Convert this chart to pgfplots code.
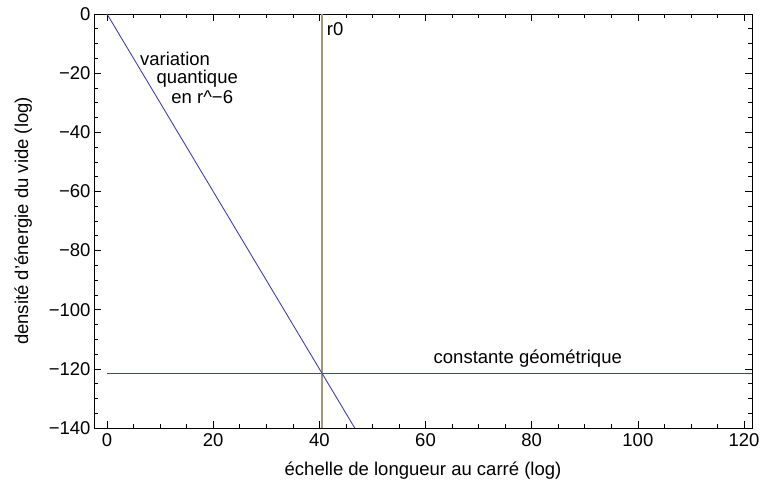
\documentclass[border=0pt]{standalone}
\usepackage{fontspec}
\setmainfont{Liberation Sans}
\usepackage{pgfplots}
\pgfplotsset{compat=1.18}
\definecolor{mblue}{rgb}{0.26,0.26,0.64}
\definecolor{mpurple}{rgb}{0.42,0.22,0.34}
\definecolor{mtan}{rgb}{0.63,0.6,0.47}
\newcommand{\tfont}{\fontsize{18.5bp}{21bp}\selectfont}
\begin{document}
\begin{tikzpicture}
\begin{axis}[
  at={(0,0)}, anchor=south west,
  scale only axis, width=658bp, height=414bp,
  xmin=-2.45, xmax=121.5, ymin=-140, ymax=0,
  xtick={0,20,...,120}, ytick={-140,-120,...,0},
  yticklabels={−140,−120,−100,−80,−60,−40,−20,0},
  minor x tick num=3, minor y tick num=3,
  tick align=inside,
  major tick length=7bp, minor tick length=4bp,
  tick style={black, line width=0.6bp},
  axis line style={line width=0.7bp},
  /pgf/number format/assume math mode=true,
  ticklabel style={font=\tfont},
  xticklabel style={yshift=-2bp},
  label style={font=\tfont},
  xlabel={échelle de longueur au carré (log)},
  ylabel={densité d'énergie du vide (log)},
  xlabel style={yshift=-8bp},
  ylabel style={yshift=10bp},
  clip=true,
]
\addplot[mpurple, line width=0.9bp] coordinates {(0,-121.5) (121.5,-121.5)};
\addplot[mtan, line width=1.4bp] coordinates {(40.5,-140) (40.5,0)};
\addplot[mblue, line width=0.9bp] coordinates {(0,0) (46.667,-140)};
\node[anchor=base west, inner sep=0, font=\tfont] at (axis cs:6.2,-17.4) {variation};
\node[anchor=base west, inner sep=0, font=\tfont] at (axis cs:9.3,-23.4) {quantique};
\node[anchor=base west, inner sep=0, font=\tfont] at (axis cs:12.1,-30.2) {en r\textasciicircum −6};
\node[anchor=base west, inner sep=0, font=\tfont] at (axis cs:41.4,-7.4) {r0};
\node[anchor=base west, inner sep=0, font=\tfont] at (axis cs:61.5,-118.2) {constante géométrique};
\end{axis}
\pgfresetboundingbox
\path[use as bounding box] (-94bp,-62bp) rectangle (666bp,428bp);
\end{tikzpicture}
\end{document}
